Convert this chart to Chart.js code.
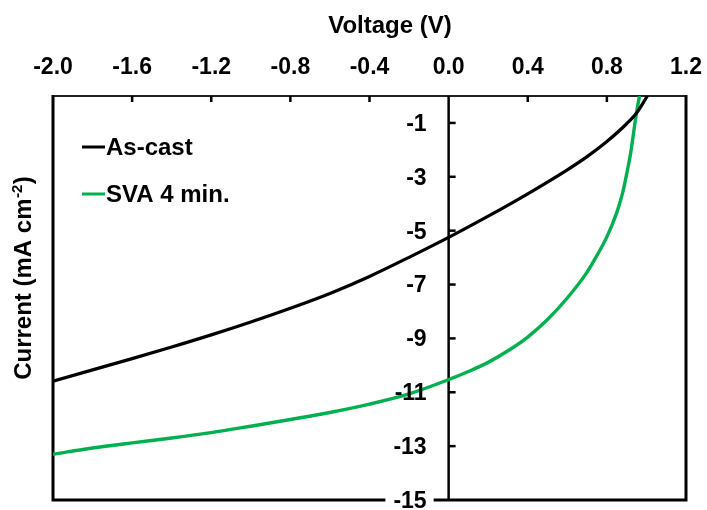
<!DOCTYPE html>
<html>
<head>
<meta charset="utf-8">
<title>J-V curves</title>
<script src="https://cdn.jsdelivr.net/npm/chart.js@4/dist/chart.umd.min.js"></script>
<style>
  html, body { margin: 0; padding: 0; background: #fff; }
  #wrap { width: 707px; height: 510px; }
</style>
</head>
<body>
<div id="wrap"><canvas id="jv" width="707" height="510"></canvas></div>
<script>
// Voltage sweep (V) and current density (mA cm^-2) for each film
const voltageAsCast = [-2.0, -1.8, -1.6, -1.4, -1.2, -1.0, -0.8, -0.6, -0.4, -0.2, 0.0, 0.2, 0.4, 0.6, 0.7, 0.8, 0.9, 0.95, 1.005];
const currentAsCast = [-10.59, -10.17, -9.75, -9.32, -8.87, -8.39, -7.88, -7.33, -6.70, -5.99, -5.25, -4.46, -3.63, -2.74, -2.25, -1.69, -1.03, -0.63, 0.0];

const voltageSVA = [-2.0, -1.8, -1.6, -1.4, -1.2, -1.0, -0.8, -0.6, -0.4, -0.2, 0.0, 0.1, 0.2, 0.3, 0.4, 0.5, 0.6, 0.7, 0.75, 0.8, 0.85, 0.88, 0.9, 0.92, 0.935, 0.95, 0.965];
const currentSVA = [-13.30, -13.07, -12.88, -12.70, -12.50, -12.26, -12.01, -11.75, -11.44, -11.06, -10.53, -10.23, -9.89, -9.46, -8.95, -8.30, -7.50, -6.54, -5.92, -5.23, -4.33, -3.59, -2.90, -2.13, -1.37, -0.61, 0.0];

const seriesLabels = ['As-cast', 'SVA 4 min.'];

// Axis ticks
const xTicks = [-2.0, -1.6, -1.2, -0.8, -0.4, 0.0, 0.4, 0.8, 1.2];
const yTicks = [-15, -13, -11, -9, -7, -5, -3, -1];

const FONT = '"Liberation Sans", Arial, Helvetica, sans-serif';
const tickFont = { family: FONT, size: 23, weight: 'bold' };
const Y_TICK_PAD = 22;

const toPoints = (xs, ys) => xs.map((v, i) => ({ x: v, y: ys[i] }));

// Plot frame, the y axis through V = 0 and inward tick marks
const framePlugin = {
  id: 'frame',
  beforeDatasetsDraw(chart) {
    const { ctx, chartArea: { left, right, top, bottom }, scales: { x, y } } = chart;
    const x0 = x.getPixelForValue(0);
    ctx.save();
    ctx.lineCap = 'butt';

    // top edge
    ctx.strokeStyle = '#222';
    ctx.lineWidth = 2;
    ctx.beginPath();
    ctx.moveTo(left, top);
    ctx.lineTo(right, top);
    ctx.stroke();

    ctx.strokeStyle = '#000';
    // x tick marks along the top edge
    ctx.lineWidth = 2.5;
    xTicks.forEach(v => {
      if (v === xTicks[0] || v === xTicks[xTicks.length - 1] || v === 0) return;
      const px = x.getPixelForValue(v);
      ctx.beginPath();
      ctx.moveTo(px, top);
      ctx.lineTo(px, top + 6);
      ctx.stroke();
    });

    // y axis line at V = 0
    ctx.beginPath();
    ctx.moveTo(x0, top);
    ctx.lineTo(x0, bottom);
    ctx.stroke();

    // y tick marks pointing right
    yTicks.forEach(v => {
      if (v === y.min) return;
      const py = y.getPixelForValue(v);
      ctx.beginPath();
      ctx.moveTo(x0, py);
      ctx.lineTo(x0 + 7, py);
      ctx.stroke();
    });

    // left, right and bottom edges
    ctx.lineWidth = 3;
    ctx.beginPath();
    ctx.moveTo(left, top - 1);
    ctx.lineTo(left, bottom + 1.5);
    ctx.moveTo(right, top - 1);
    ctx.lineTo(right, bottom + 1.5);
    ctx.moveTo(left - 1.5, bottom);
    ctx.lineTo(right + 1.5, bottom);
    ctx.stroke();
    ctx.restore();
  },
  // y tick labels sit left of the V = 0 axis, on top of the curves
  afterDatasetsDraw(chart) {
    const { ctx, chartArea: { bottom }, scales: { x, y } } = chart;
    const x0 = x.getPixelForValue(0);
    const labelRight = x0 - Y_TICK_PAD;
    ctx.save();
    ctx.font = `${tickFont.weight} ${tickFont.size}px ${FONT}`;
    ctx.textAlign = 'right';
    ctx.textBaseline = 'middle';
    y.ticks.forEach(t => {
      const py = y.getPixelForValue(t.value);
      const txt = String(t.value);
      if (t.value === y.min) {
        const w = ctx.measureText(txt).width;
        ctx.fillStyle = '#fff';
        ctx.fillRect(labelRight - w - 8, py - 12, w + 15, 24);
      }
      ctx.fillStyle = '#000';
      ctx.fillText(txt, labelRight, py + 1.5);
    });
    ctx.restore();
  }
};

// Axis title, legend inside the plot and the rotated y-axis title
const annotatePlugin = {
  id: 'annotate',
  afterDraw(chart) {
    const { ctx } = chart;
    ctx.save();
    ctx.fillStyle = '#000';

    // x title
    ctx.font = `bold 24px ${FONT}`;
    ctx.textAlign = 'center';
    ctx.textBaseline = 'alphabetic';
    ctx.fillText('Voltage (V)', 390, 33);

    // legend
    const rows = [147, 194];
    ctx.textBaseline = 'middle';
    ctx.textAlign = 'left';
    chart.data.datasets.forEach((ds, i) => {
      const yy = rows[i];
      ctx.strokeStyle = ds.borderColor;
      ctx.lineWidth = 3;
      ctx.beginPath();
      ctx.moveTo(82, yy);
      ctx.lineTo(105, yy);
      ctx.stroke();
      ctx.fillStyle = '#000';
      ctx.fillText(ds.label, 106, yy + 1);
    });

    // y title: Current (mA cm^-2)
    const main = 'Current (mA cm';
    const sup = '-2';
    const close = ')';
    const mainFont = `bold 24px ${FONT}`;
    const supFont = `bold 15px ${FONT}`;
    ctx.font = mainFont;
    const wMain = ctx.measureText(main).width;
    const wClose = ctx.measureText(close).width;
    ctx.font = supFont;
    const wSup = ctx.measureText(sup).width;
    const total = wMain + wSup + wClose + 1;
    ctx.translate(31, 278);
    ctx.rotate(-Math.PI / 2);
    ctx.textAlign = 'left';
    ctx.textBaseline = 'alphabetic';
    let cx = -total / 2;
    ctx.font = mainFont;
    ctx.fillText(main, cx, 0);
    cx += wMain + 0.5;
    ctx.font = supFont;
    ctx.fillText(sup, cx, -9);
    cx += wSup + 0.5;
    ctx.font = mainFont;
    ctx.fillText(close, cx, 0);
    ctx.restore();
  }
};

new Chart(document.getElementById('jv'), {
  type: 'line',
  data: {
    datasets: [
      {
        label: seriesLabels[0],
        data: toPoints(voltageAsCast, currentAsCast),
        borderColor: '#000000',
        borderWidth: 3.2,
        pointRadius: 0,
        cubicInterpolationMode: 'monotone',
        fill: false
      },
      {
        label: seriesLabels[1],
        data: toPoints(voltageSVA, currentSVA),
        borderColor: '#00B050',
        borderWidth: 3.4,
        pointRadius: 0,
        cubicInterpolationMode: 'monotone',
        fill: false
      }
    ]
  },
  options: {
    responsive: false,
    animation: false,
    devicePixelRatio: 1,
    layout: { padding: { left: 53, right: 21, top: 0, bottom: 10 } },
    plugins: {
      legend: { display: false },
      tooltip: { enabled: false }
    },
    scales: {
      x: {
        type: 'linear',
        position: 'top',
        min: -2.0,
        max: 1.2,
        afterBuildTicks: s => { s.ticks = xTicks.map(v => ({ value: v })); },
        afterFit: s => { s.height = 96; s.paddingLeft = 0; s.paddingRight = 0; },
        ticks: {
          callback: v => Number(v).toFixed(1),
          font: tickFont,
          color: '#000',
          padding: 7,
          maxRotation: 0,
          autoSkip: false
        },
        grid: { display: false },
        border: { display: false },
        title: { display: false }
      },
      y: {
        type: 'linear',
        position: { x: 0 },
        min: -15,
        max: 0,
        afterBuildTicks: s => { s.ticks = yTicks.map(v => ({ value: v })); },
        afterFit: s => { s.paddingTop = 0; s.paddingBottom = 0; },
        ticks: { display: false },
        grid: { display: false },
        border: { display: false }
      }
    }
  },
  plugins: [framePlugin, annotatePlugin]
});
</script>
</body>
</html>
